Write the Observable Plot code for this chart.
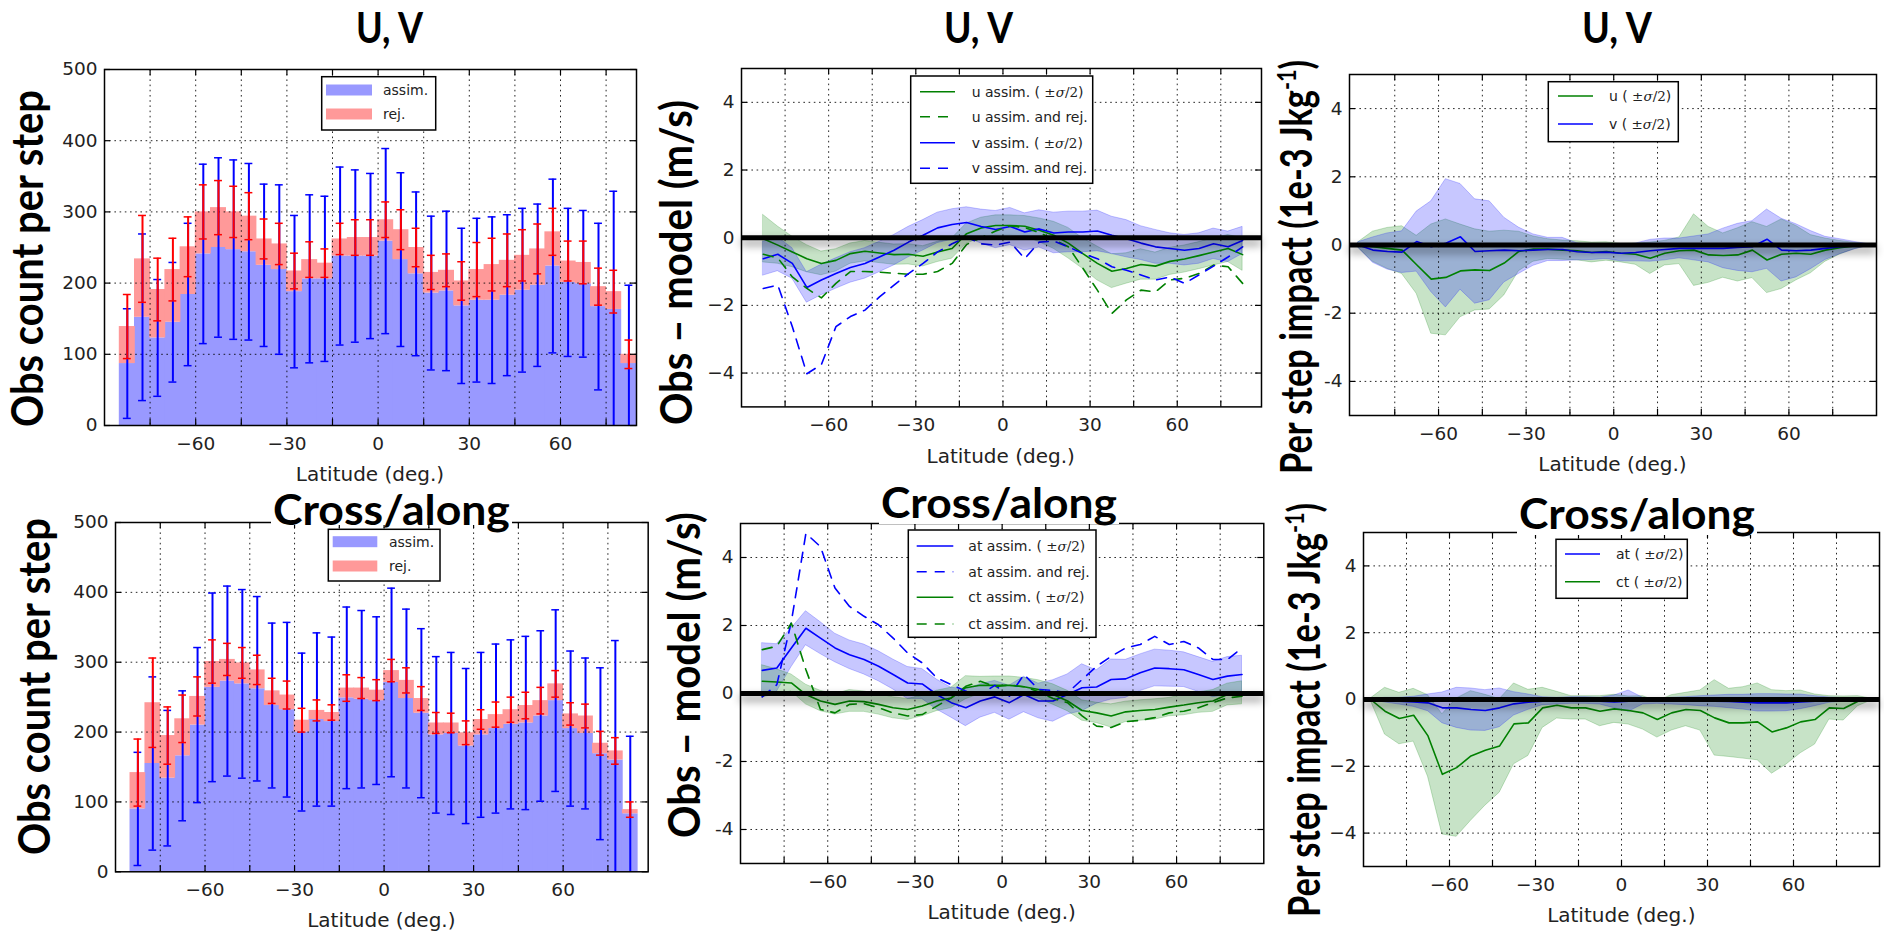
<!DOCTYPE html>
<html><head><meta charset="utf-8">
<script src="https://cdn.jsdelivr.net/npm/d3@7"></script>
<script src="https://cdn.jsdelivr.net/npm/@observablehq/plot@0.6"></script>
<style>
html,body{margin:0;padding:0;background:#fff;overflow:hidden;}
#root{position:relative;width:1884px;height:933px;overflow:hidden;background:#fff;}
#root svg{position:absolute;}
</style></head><body><div id="root"></div>
<script>
// ---------------- DATA ----------------
const binCenters = [-82.5,-77.5,-72.5,-67.5,-62.5,-57.5,-52.5,-47.5,-42.5,-37.5,-32.5,-27.5,-22.5,-17.5,-12.5,-7.5,-2.5,2.5,7.5,12.5,17.5,22.5,27.5,32.5,37.5,42.5,47.5,52.5,57.5,62.5,67.5,72.5,77.5,82.5];
const impactLat = [-87.5,-82.5,-77.5,-72.5,-67.5,-62.5,-57.5,-52.5,-47.5,-42.5,-37.5,-32.5,-27.5,-22.5,-17.5,-12.5,-7.5,-2.5,2.5,7.5,12.5,17.5,22.5,27.5,32.5,37.5,42.5,47.5,52.5,57.5,62.5,67.5,72.5,77.5,82.5,87.5];
const latGridTicks = [-75,-60,-45,-30,-15,0,15,30,45,60,75];
const latLabelTicks = [-60,-30,0,30,60];
const countTicks = [0,100,200,300,400,500];
const diffTicks = [-4,-2,0,2,4];

// Panel: U,V obs count
const uvAssimCount = [87,152,123,145,184,241,250,247,244,225,219,188,206,206,238,238,238,259,233,213,186,189,168,176,176,183,190,197,224,201,199,167,163,87];
const uvTotalCount = [139,234,191,219,251,300,306,300,294,262,255,217,233,228,262,264,264,289,275,250,215,218,203,219,226,232,239,248,272,231,229,195,188,100];
const uvAssimSd = [77,117,82,84,100,126,126,126,124,114,119,107,118,116,125,121,116,130,122,115,108,112,109,115,117,113,115,114,122,104,103,117,166,110];
const uvRejSd = [45,61,44,44,42,38,38,36,33,28,29,25,25,20,22,25,25,25,28,27,24,23,27,38,37,37,36,35,33,28,30,26,30,20];

// Panel: Cross/along obs count
const caAssimCount = [90,155,134,166,210,264,273,269,262,238,232,200,218,215,249,247,245,271,248,227,196,198,180,196,205,211,213,223,245,205,198,169,160,83];
const caTotalCount = [142,242,195,219,251,301,304,299,289,259,253,217,231,228,263,263,260,288,274,248,213,213,199,218,225,232,238,245,269,226,223,184,173,89];
const caAssimSd = [81,124,97,93,111,135,136,135,132,118,125,113,124,121,130,127,120,135,128,121,112,116,111,118,121,121,124,122,130,111,108,123,171,111];
const caRejSd = [48,64,41,34,28,31,23,22,21,18,20,17,15,11,19,15,15,16,18,17,15,14,17,14,18,18,19,19,19,16,17,17,19,11];

// Panel: U,V obs - model
const uvUAssim = [-0.03,-0.22,-0.42,-0.62,-0.76,-0.67,-0.47,-0.40,-0.45,-0.50,-0.49,-0.55,-0.42,-0.32,0.12,0.29,0.36,0.36,0.34,0.22,0.07,-0.16,-0.47,-0.76,-0.99,-0.91,-0.79,-0.84,-0.70,-0.63,-0.53,-0.42,-0.32,-0.50];
const uvUHalf = [0.7,0.55,0.45,0.4,0.35,0.33,0.3,0.3,0.3,0.3,0.3,0.3,0.3,0.3,0.3,0.3,0.3,0.3,0.3,0.35,0.4,0.45,0.45,0.5,0.5,0.45,0.45,0.4,0.4,0.4,0.4,0.4,0.4,0.48];
const uvUAll = [-0.49,-0.6,-1.16,-1.5,-1.78,-1.35,-1.0,-1.0,-1.02,-1.05,-1.08,-1.08,-1.0,-0.76,-0.2,0.0,0.2,0.35,0.3,0.15,-0.05,-0.27,-0.9,-1.55,-2.24,-1.84,-1.55,-1.6,-1.25,-1.2,-1.06,-0.81,-0.86,-1.35];
const uvVAssim = [-0.62,-0.49,-0.76,-1.47,-1.25,-1.06,-0.88,-0.76,-0.57,-0.37,-0.13,0.07,0.29,0.39,0.45,0.33,0.24,0.33,0.17,0.26,0.14,0.17,0.17,0.2,0.07,-0.03,-0.16,-0.27,-0.32,-0.37,-0.32,-0.18,-0.27,-0.08];
const uvVHalf = [0.5,0.5,0.45,0.45,0.45,0.45,0.45,0.45,0.45,0.45,0.45,0.45,0.45,0.45,0.45,0.5,0.55,0.55,0.55,0.55,0.6,0.6,0.6,0.6,0.55,0.55,0.5,0.5,0.45,0.45,0.45,0.45,0.45,0.4];
const uvVAll = [-1.5,-1.4,-2.63,-4.02,-3.75,-2.63,-2.33,-2.14,-1.75,-1.4,-1.06,-0.76,-0.42,-0.18,0.02,-0.18,-0.22,-0.13,-0.62,-0.13,-0.1,-0.27,-0.47,-0.62,-0.86,-0.96,-1.1,-1.25,-1.16,-1.35,-1.1,-0.84,-0.57,-0.27];

// Panel: Cross/along obs - model
const caAtAssim = [0.68,0.75,1.34,1.92,1.63,1.34,1.14,1.0,0.8,0.56,0.31,0.28,-0.03,-0.27,-0.42,-0.22,-0.1,-0.27,-0.03,-0.22,-0.22,-0.03,0.17,0.19,0.41,0.43,0.61,0.75,0.73,0.7,0.56,0.41,0.51,0.56];
const caAtHalf = [0.8,0.7,0.57,0.5,0.47,0.42,0.42,0.44,0.44,0.44,0.47,0.44,0.44,0.44,0.54,0.49,0.47,0.5,0.52,0.51,0.61,0.59,0.69,0.49,0.59,0.56,0.54,0.54,0.53,0.51,0.51,0.52,0.56,0.55];
const caAtAll = [-0.1,0.26,2.12,4.71,4.32,3.1,2.56,2.27,2.02,1.63,1.19,0.9,0.46,0.26,0.07,-0.03,0.24,-0.08,0.56,0.12,0.09,0.02,0.41,0.8,1.09,1.34,1.44,1.68,1.44,1.53,1.34,1.0,1.0,1.34];
const caCtAssim = [0.36,0.34,0.31,-0.03,-0.22,-0.32,-0.22,-0.24,-0.32,-0.42,-0.47,-0.37,-0.22,-0.13,0.17,0.24,0.24,0.24,0.2,0.12,-0.03,-0.22,-0.5,-0.57,-0.66,-0.54,-0.5,-0.47,-0.4,-0.34,-0.27,-0.22,-0.03,0.02];
const caCtHalf = [0.47,0.37,0.25,0.29,0.3,0.3,0.32,0.3,0.3,0.31,0.31,0.3,0.3,0.3,0.34,0.25,0.26,0.26,0.26,0.27,0.3,0.3,0.3,0.3,0.34,0.3,0.3,0.3,0.27,0.3,0.3,0.32,0.32,0.34];
const caCtAll = [1.29,1.39,2.07,0.7,-0.47,-0.57,-0.32,-0.3,-0.42,-0.57,-0.66,-0.62,-0.37,-0.13,0.21,0.36,0.2,0.25,0.2,0.05,-0.15,-0.27,-0.66,-0.96,-1.0,-0.83,-0.79,-0.71,-0.57,-0.52,-0.42,-0.27,-0.13,-0.08];

// Panel: U,V per step impact
const impU = [0,-0.05,-0.1,-0.15,-0.58,-1.0,-0.95,-0.76,-0.73,-0.75,-0.53,-0.19,-0.12,-0.12,-0.15,-0.17,-0.22,-0.19,-0.24,-0.27,-0.39,-0.24,-0.17,-0.15,-0.29,-0.31,-0.29,-0.15,-0.44,-0.27,-0.24,-0.27,-0.15,-0.08,-0.03,0];
const impUHalf = [0.08,0.44,0.6,0.7,0.85,1.6,1.7,1.36,1.19,1.14,0.95,0.58,0.37,0.29,0.28,0.28,0.29,0.27,0.27,0.31,0.46,0.36,0.39,1.05,0.82,0.65,0.78,0.82,0.97,1.02,0.8,0.56,0.34,0.2,0.09,0.02];
const impV = [0,-0.15,-0.19,-0.21,0.1,-0.05,0.05,0.24,-0.19,-0.17,-0.15,-0.17,-0.15,-0.13,-0.13,-0.2,-0.22,-0.21,-0.24,-0.22,-0.17,-0.13,-0.1,-0.1,-0.1,-0.1,-0.07,-0.05,0.17,-0.15,-0.17,-0.15,-0.1,-0.05,-0.02,0];
const impVHalf = [0.08,0.37,0.53,0.61,0.88,1.33,1.88,1.55,1.53,1.45,0.95,0.68,0.46,0.34,0.34,0.25,0.22,0.2,0.24,0.26,0.32,0.32,0.29,0.35,0.41,0.58,0.69,0.75,0.87,0.92,0.78,0.56,0.34,0.22,0.11,0.02];

// Panel: Cross/along per step impact
const impAt = [0,-0.02,-0.05,-0.07,-0.1,-0.25,-0.25,-0.3,-0.33,-0.25,-0.13,-0.08,-0.05,-0.05,-0.03,-0.03,-0.05,-0.07,-0.05,-0.05,-0.05,-0.05,-0.05,-0.05,-0.05,-0.06,-0.08,-0.1,-0.1,-0.1,-0.07,-0.05,-0.02,-0.01,0,0];
const impAtHalf = [0.02,0.07,0.1,0.15,0.25,0.46,0.6,0.63,0.61,0.58,0.35,0.23,0.12,0.1,0.1,0.1,0.1,0.19,0.32,0.1,0.08,0.1,0.12,0.15,0.17,0.2,0.22,0.26,0.26,0.25,0.22,0.15,0.08,0.05,0.02,0.01];
const impCt = [0,-0.35,-0.57,-0.47,-1.09,-2.24,-2.04,-1.69,-1.52,-1.39,-0.73,-0.7,-0.25,-0.17,-0.25,-0.25,-0.35,-0.28,-0.33,-0.4,-0.6,-0.4,-0.3,-0.33,-0.55,-0.7,-0.7,-0.67,-0.97,-0.85,-0.67,-0.6,-0.25,-0.27,-0.05,0];
const impCtHalf = [0.03,0.7,0.77,0.79,1.22,1.8,2.07,1.94,1.66,1.4,1.21,0.99,0.6,0.4,0.35,0.35,0.45,0.42,0.42,0.5,0.54,0.53,0.5,0.6,1.13,1.02,1.07,1.15,1.25,1.1,0.94,0.75,0.35,0.36,0.15,0.02];

// Text
const histLegendLabels = ["assim.", "rej."];
const uvDiffLegend = ["u assim. (", "u assim. and rej.", "v assim. (", "v assim. and rej."];
const caDiffLegend = ["at assim. (", "at assim. and rej.", "ct assim. (", "ct assim. and rej."];
const uvImpLegend = ["u (", "v ("];
const caImpLegend = ["at (", "ct ("];

// ---------------- STYLE / LAYOUT ----------------
const BLUE = "#0000ff", GREEN = "#008000", RED = "#ff0000";
const BAR_BLUE = "#9999ff", BAR_RED = "#ff9999";
const ML = 70, MT = 30, MR = 30, MB = 40;
const root = document.getElementById("root");
const fmtLat = d => d < 0 ? "\u2212" + (-d) : String(d);
const fmtHyphen = d => d < 0 ? "-" + (-d) : String(d);
const gridStyle = {stroke: "#000", strokeOpacity: 0.85, strokeWidth: 1, strokeDasharray: "1.6,3.6"};

function base(frame, xDomain, yDomain) {
  const fw = frame[2] - frame[0], fh = frame[3] - frame[1];
  return {
    width: fw + ML + MR, height: fh + MT + MB,
    marginLeft: ML, marginRight: MR, marginTop: MT, marginBottom: MB,
    x: {domain: xDomain, label: null}, y: {domain: yDomain, label: null},
    style: {background: "transparent", overflow: "visible", maxWidth: "none", fontFamily: "'DejaVu Sans', sans-serif", color: "#222"}
  };
}
function frameTicks(xVals, yVals, frame) {
  const fw = frame[2] - frame[0], fh = frame[3] - frame[1], len = 6;
  const st = {stroke: "#000", strokeWidth: 1.2};
  return [
    Plot.tickX(xVals, {x: d => d, insetTop: fh - len, ...st}),
    Plot.tickX(xVals, {x: d => d, insetBottom: fh - len, ...st}),
    Plot.tickY(yVals, {y: d => d, insetRight: fw - len, ...st}),
    Plot.tickY(yVals, {y: d => d, insetLeft: fw - len, ...st})
  ];
}
function axes(yTicks, yFmt) {
  return [
    Plot.frame({stroke: "#000", strokeWidth: 1.5}),
    Plot.axisX({ticks: latLabelTicks, tickSize: 0, tickPadding: 11, fontSize: 18.5, tickFormat: fmtLat, label: null}),
    Plot.axisY({ticks: yTicks, tickSize: 0, tickPadding: 7, fontSize: 18.5, tickFormat: yFmt, label: null})
  ];
}
function place(plot, frame) {
  plot.style.position = "absolute";
  plot.style.left = (frame[0] - ML) + "px";
  plot.style.top = (frame[1] - MT) + "px";
  root.appendChild(plot);
  plot.querySelectorAll('[aria-description="zeroline"]').forEach(g => {
    g.style.filter = "drop-shadow(0px 5px 4px rgba(0,0,0,0.45))";
  });
}

function histPanel(frame, xDomain, assim, total, assimSd, rejSd) {
  const rows = binCenters.map((lat, i) => ({lat, a: assim[i], t: total[i], as: assimSd[i], rs: rejSd[i]}));
  const hw = 2.5, cap = 1.3;
  const barOpt = {insetLeft: -0.4, insetRight: -0.4};
  const plot = Plot.plot({
    ...base(frame, xDomain, [0, 500]),
    marks: [
      Plot.rect(rows, {x1: d => d.lat - hw, x2: d => d.lat + hw, y1: 0, y2: "a", fill: BAR_BLUE, ...barOpt}),
      Plot.rect(rows, {x1: d => d.lat - hw, x2: d => d.lat + hw, y1: "a", y2: "t", fill: BAR_RED, ...barOpt}),
      Plot.gridX(latGridTicks, gridStyle),
      Plot.gridY(countTicks.slice(1, -1), gridStyle),
      Plot.ruleX(rows, {x: "lat", y1: d => Math.max(0, d.a - d.as), y2: d => d.a + d.as, stroke: BLUE, strokeWidth: 2}),
      Plot.ruleY(rows, {y: d => d.a + d.as, x1: d => d.lat - cap, x2: d => d.lat + cap, stroke: BLUE, strokeWidth: 1.5}),
      Plot.ruleY(rows.filter(d => d.a - d.as > 0), {y: d => d.a - d.as, x1: d => d.lat - cap, x2: d => d.lat + cap, stroke: BLUE, strokeWidth: 1.5}),
      Plot.ruleX(rows, {x: "lat", y1: d => d.t - d.rs, y2: d => d.t + d.rs, stroke: RED, strokeWidth: 2}),
      Plot.ruleY(rows, {y: d => d.t + d.rs, x1: d => d.lat - cap, x2: d => d.lat + cap, stroke: RED, strokeWidth: 1.5}),
      Plot.ruleY(rows, {y: d => d.t - d.rs, x1: d => d.lat - cap, x2: d => d.lat + cap, stroke: RED, strokeWidth: 1.5}),
      ...frameTicks(latGridTicks, countTicks, frame),
      ...axes(countTicks, d => String(d))
    ]
  });
  place(plot, frame);
}

function linePanel(frame, xDomain, lats, series, yFmt) {
  const rowsOf = s => lats.map((lat, i) => ({lat, v: s.values[i], h: s.half ? s.half[i] : 0}));
  const plot = Plot.plot({
    ...base(frame, xDomain, [-5, 5]),
    marks: [
      ...series.filter(s => s.half).map(s => Plot.areaY(rowsOf(s), {x: "lat", y1: d => d.v - d.h, y2: d => d.v + d.h, fill: s.color, fillOpacity: 0.22, stroke: s.color, strokeOpacity: 0.22, strokeWidth: 1})),
      Plot.gridX(latGridTicks, gridStyle),
      Plot.gridY(diffTicks, gridStyle),
      ...series.map(s => Plot.lineY(rowsOf(s), {x: "lat", y: "v", stroke: s.color, strokeWidth: 1.6, ...(s.dash ? {strokeDasharray: "10,8"} : {})})),
      Plot.ruleY([0], {stroke: "#000", strokeWidth: 5, ariaDescription: "zeroline"}),
      ...frameTicks(latGridTicks, diffTicks, frame),
      ...axes(diffTicks, yFmt)
    ]
  });
  place(plot, frame);
}

// frames [x0, y0, x1, y1] in page pixels
const F1 = [104, 69, 636, 425], F2 = [740.7, 68.3, 1260.7, 406.7], F3 = [1349, 74, 1876, 415];
const F4 = [115, 521.7, 647.7, 871], F5 = [740, 522.7, 1263.3, 862.7], F6 = [1363.3, 531.7, 1879.3, 865.7];

histPanel(F1, [-90, 85], uvAssimCount, uvTotalCount, uvAssimSd, uvRejSd);
histPanel(F4, [-90, 88.5], caAssimCount, caTotalCount, caAssimSd, caRejSd);
linePanel(F2, [-90, 89], binCenters, [
  {values: uvUAssim, half: uvUHalf, color: GREEN},
  {values: uvVAssim, half: uvVHalf, color: BLUE},
  {values: uvUAll, color: GREEN, dash: true},
  {values: uvVAll, color: BLUE, dash: true}
], fmtLat);
linePanel(F5, [-90, 90], binCenters, [
  {values: caAtAssim, half: caAtHalf, color: BLUE},
  {values: caCtAssim, half: caCtHalf, color: GREEN},
  {values: caAtAll, color: BLUE, dash: true},
  {values: caCtAll, color: GREEN, dash: true}
], fmtHyphen);
linePanel(F3, [-90.5, 90], impactLat, [
  {values: impU, half: impUHalf, color: GREEN},
  {values: impV, half: impVHalf, color: BLUE}
], fmtHyphen);
linePanel(F6, [-90, 90], impactLat, [
  {values: impCt, half: impCtHalf, color: GREEN},
  {values: impAt, half: impAtHalf, color: BLUE}
], fmtLat);

// ---------------- OVERLAY (titles, labels, legends) ----------------
const TITLE_FONT = "Lato, 'Open Sans', sans-serif";
let s = "";
// fitted texts: natural width measured after insertion, then squeezed horizontally with a scale transform
function title(text, x0, x1, base, bgBottom) {
  let r = "";
  if (bgBottom != null) r += `<rect x="${x0 - 2}" y="${base - 33}" width="${x1 - x0 + 4}" height="${33 + bgBottom}" fill="#fff"/>`;
  r += `<text class="fit" data-tx="${x0}" data-ty="${base}" data-rot="0" data-len="${x1 - x0}" x="0" y="0" font-family="${TITLE_FONT}" font-weight="700" font-size="42" fill="#000">${text}</text>`;
  return r;
}
s += title("U, V", 356, 423, 43);
s += title("U, V", 944, 1013, 43);
s += title("U, V", 1582, 1652, 43);
s += title("Cross/along", 273, 510, 525, 0);
s += title("Cross/along", 881, 1117, 518, 6);
s += title("Cross/along", 1519, 1755, 529, 6);

function ylab(content, bx, yStart, yEnd) {
  return `<text class="fit" data-tx="${bx}" data-ty="${yStart}" data-rot="-90" data-len="${yStart - yEnd}" x="0" y="0" font-family="${TITLE_FONT}" font-weight="700" font-size="43" fill="#000">${content}</text>`;
}
const impactLabel = `Per step impact (1e-3 Jkg<tspan font-size="27" dy="-16">-1</tspan><tspan dy="16">)</tspan>`;
s += ylab("Obs count per step", 43, 427, 90);
s += ylab("Obs count per step", 50, 855, 518);
s += ylab("Obs \u2013 model (m/s)", 692, 425, 100);
s += ylab("Obs \u2013 model (m/s)", 700, 838, 512);
s += ylab(impactLabel, 1312, 474, 60);
s += ylab(impactLabel, 1320, 917, 503);

function xlab(frame) {
  const cx = (frame[0] + frame[2]) / 2;
  return `<text x="${cx}" y="${frame[3] + 56}" text-anchor="middle" font-family="'DejaVu Sans', sans-serif" font-size="20" fill="#222">Latitude (deg.)</text>`;
}
[F1, F2, F3, F4, F5, F6].forEach(f => s += xlab(f));

const sigma = `<tspan font-family="'DejaVu Serif', serif" font-size="13.5"> \u00b1<tspan font-style="italic">\u03c3</tspan>/2</tspan>)`;
function legendBox(x0, y0, x1, y1) {
  return `<rect x="${x0}" y="${y0}" width="${x1 - x0}" height="${y1 - y0}" fill="#fff" stroke="#000" stroke-width="1.5"/>`;
}
function legendText(x, y, label, withSigma) {
  return `<text x="${x}" y="${y + 5}" font-family="'DejaVu Sans', sans-serif" font-size="14" fill="#222">${label}${withSigma ? sigma : ""}</text>`;
}
function lineLegend(box, rowYs, sx0, sx1, tx, labels, colors, dashes) {
  let r = legendBox(...box);
  rowYs.forEach((y, i) => {
    r += `<line x1="${sx0}" x2="${sx1}" y1="${y}" y2="${y}" stroke="${colors[i]}" stroke-width="1.6"${dashes[i] ? ' stroke-dasharray="10,8"' : ""}/>`;
    r += legendText(tx, y, labels[i], labels[i].endsWith("("));
  });
  return r;
}
function histLegend(box, rowYs, sx0, sx1, tx) {
  let r = legendBox(...box);
  const fills = [BAR_BLUE, BAR_RED];
  rowYs.forEach((y, i) => {
    r += `<rect x="${sx0}" y="${y - 5.5}" width="${sx1 - sx0}" height="11" fill="${fills[i]}"/>`;
    r += legendText(tx, y, histLegendLabels[i], false);
  });
  return r;
}
s += histLegend([321.7, 76.7, 435.7, 130], [90, 114], 326, 372, 383);
s += histLegend([328.3, 529.3, 440, 581], [541.7, 566], 332.7, 377.3, 389);
s += lineLegend([910.7, 76, 1092.7, 183.3], [91.7, 116.7, 142.7, 168.3], 920, 955, 971.7, uvDiffLegend, [GREEN, GREEN, BLUE, BLUE], [false, true, false, true]);
s += lineLegend([908.3, 530, 1096, 637.3], [546, 571.7, 597.3, 624], 916.7, 953.3, 968.3, caDiffLegend, [BLUE, BLUE, GREEN, GREEN], [false, true, false, true]);
s += lineLegend([1548.3, 81.7, 1678.3, 141.7], [96, 124], 1558, 1593, 1609, uvImpLegend, [GREEN, BLUE], [false, false]);
s += lineLegend([1556, 539.3, 1687.3, 598.3], [554, 581.7], 1565, 1600, 1616, caImpLegend, [BLUE, GREEN], [false, false]);

root.insertAdjacentHTML("beforeend", `<svg xmlns="http://www.w3.org/2000/svg" width="1884" height="933" style="left:0;top:0;position:absolute;overflow:visible">${s}</svg>`);

// squeeze fitted texts to their measured target lengths
root.querySelectorAll("text.fit").forEach(t => {
  const natural = t.getComputedTextLength() || 1;
  const k = (+t.dataset.len) / natural;
  const rot = +t.dataset.rot;
  t.setAttribute("transform", `translate(${t.dataset.tx},${t.dataset.ty})${rot ? ` rotate(${rot})` : ""} scale(${k},1)`);
});
</script></body></html>
